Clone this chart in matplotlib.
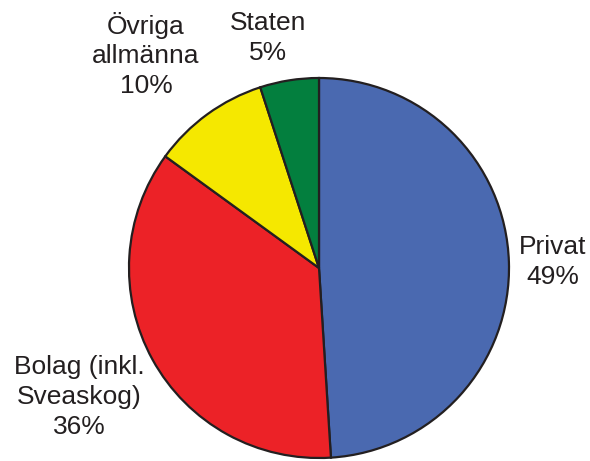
import matplotlib
matplotlib.use("Agg")
from matplotlib import pyplot as plt

# data, clockwise from 12 o'clock
labels = ["Privat", "Bolag (inkl.\nSveaskog)", "Övriga\nallmänna", "Staten"]
shares = [49, 36, 10, 5]
colors = ["#4a69b0", "#ec2227", "#f5e800", "#037f3e"]

# label positions in pixel coords (x, y from top)
label_pos = [(553, 262), (79, 397), (146, 55), (268, 38)]

W, H = 590, 461
fig = plt.figure(figsize=(W / 100, H / 100), dpi=100)
ax = fig.add_axes([0, 0, 1, 1])

ax.pie(shares, colors=colors, startangle=90, counterclock=False,
       center=(319, H - 268), radius=190, frame=True,
       wedgeprops=dict(edgecolor="#231f20", linewidth=1.6))
ax.set_xlim(0, W)
ax.set_ylim(0, H)
ax.set_aspect("equal")
ax.axis("off")

for lab, val, (x, y) in zip(labels, shares, label_pos):
    ax.text(x, H - y, "%s\n%d%%" % (lab, val), ha="center", va="center",
            fontsize=19, family="Liberation Sans", color="#231f20",
            linespacing=1.3)

fig.savefig("out.png", dpi=100)
